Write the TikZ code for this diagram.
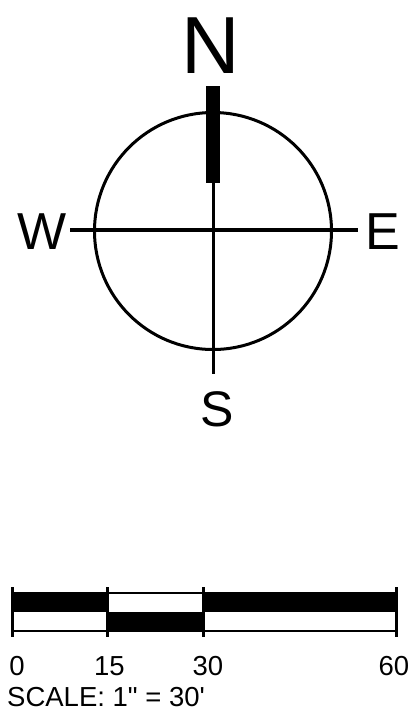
\documentclass[tikz,border=0pt]{standalone}
\usepackage{fontspec}
\setmainfont{Liberation Sans}[Ligatures=TeXOff]
\begin{document}
\begin{tikzpicture}[x=1pt,y=-1pt,
  lbl/.style={inner sep=0pt,anchor=base},
  small/.style={font=\fontsize{27.5}{27.5}\selectfont},
  thinline/.style={line width=1.2pt},
  tick/.style={line width=3pt}]
\useasboundingbox (0,0) rectangle (418,716);
% compass
\node[lbl,font=\fontsize{81}{81}\selectfont] (N) at (211,73) {N};
\node[lbl,font=\fontsize{52}{52}\selectfont] (W) at (42.5,249) {W};
\node[lbl,font=\fontsize{52}{52}\selectfont] (E) at (382.5,249) {E};
\node[lbl,font=\fontsize{50}{50}\selectfont] (S) at (217,426) {S};
\coordinate (C) at (213,231);
\draw[line width=3pt] (C) circle[radius=118.5];
\coordinate (wl) at (70,230);
\coordinate (el) at (358,230);
\draw[line width=4pt] (wl) -- (el);
\coordinate (nt) at (213,183);
\coordinate (sb) at (213,374);
\draw[line width=3pt] (nt) -- (sb);
\fill (206,86) rectangle (220,183);
% scale bar
\fill (12,593) rectangle (107,612);
\fill (203,593) rectangle (396,612);
\fill (107,612) rectangle (203,631);
\draw[thinline] (12,593) rectangle (396,631);
\draw[tick] (12,587) -- (12,637);
\draw[tick] (107,587) -- (107,637);
\draw[tick] (203,587) -- (203,637);
\draw[tick] (396,587) -- (396,637);
\node[lbl,small] (n0) at (17,675) {0};
\node[lbl,small] (n15) at (109.5,675) {15};
\node[lbl,small] (n30) at (208,675) {30};
\node[lbl,small] (n60) at (394,675) {60};
\node[lbl,small,anchor=base west] (sc) at (7,706) {SCALE: 1" = 30'};
\end{tikzpicture}
\end{document}
